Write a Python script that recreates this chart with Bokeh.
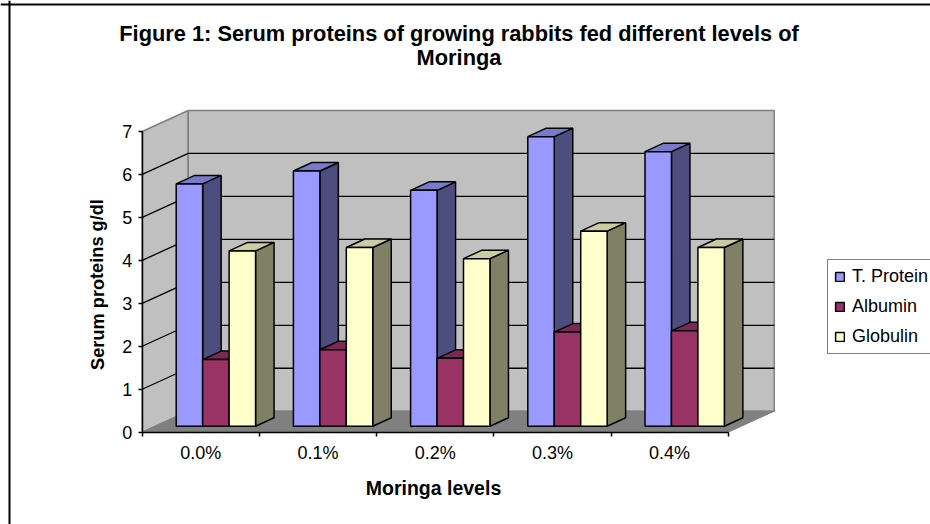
from bokeh.plotting import figure
from bokeh.models import (ColumnDataSource, LinearAxis, FixedTicker, Span, Label, Legend, LegendItem, Range1d)
from bokeh.embed import file_html
from bokeh.resources import INLINE

categories = ["0.0%", "0.1%", "0.2%", "0.3%", "0.4%"]
t_protein = [5.64, 5.94, 5.49, 6.74, 6.39]
albumin = [1.55, 1.78, 1.58, 2.19, 2.22]
globulin = [4.08, 4.16, 3.90, 4.54, 4.16]
y_ticks = [0, 1, 2, 3, 4, 5, 6, 7]
title_lines = ["Figure 1: Serum proteins of growing rabbits fed different levels of", "Moringa"]
y_title = "Serum proteins g/dl"
x_title = "Moringa levels"
series_names = ["T. Protein", "Albumin", "Globulin"]

# geometry
W, H = 930, 524
TOP = 0           # page y of the figure's top edge
LEFT = 0          # page x of the figure's left edge
AX_X = 141.7      # page x of category 0
AX_Y = 431.7      # page y of value 0
CAT_PX = 117.2    # pixels per category
VAL_PX = 42.96    # pixels per value unit
FLOOR_DX = 46 / CAT_PX
FLOOR_DY = 21 / VAL_PX
BAR_DX = 18.5 / CAT_PX
BAR_DY = 8.5 / VAL_PX
BAR_BASE = 6 / VAL_PX
BAR_W = 26.45 / CAT_PX
BAR_START = (175.7 - AX_X) / CAT_PX
FONT = "Liberation Sans"

p = figure(width=W, height=H, output_backend="svg", toolbar_location=None, tools="",
           x_axis_type=None, y_axis_type=None, min_border=0,
           x_range=Range1d((LEFT - AX_X) / CAT_PX, (LEFT + W - AX_X) / CAT_PX),
           y_range=Range1d((AX_Y - TOP - H) / VAL_PX, (AX_Y - TOP) / VAL_PX))
p.grid.visible = False
p.outline_line_color = None
p.background_fill_color = "white"

ncat = len(categories)
top_val = y_ticks[-1]
WALL = "#C0C0C0"
EDGE = "#808080"

# walls and floor
p.patch([0, FLOOR_DX, FLOOR_DX, 0], [0, FLOOR_DY, top_val + FLOOR_DY, top_val],
        fill_color=WALL, line_color=EDGE, line_width=1.5)
p.patch([FLOOR_DX, ncat + FLOOR_DX, ncat + FLOOR_DX, FLOOR_DX],
        [FLOOR_DY, FLOOR_DY, top_val + FLOOR_DY, top_val + FLOOR_DY],
        fill_color=WALL, line_color=EDGE, line_width=1.5)
p.patch([0, ncat, ncat + FLOOR_DX, FLOOR_DX], [0, 0, FLOOR_DY, FLOOR_DY],
        fill_color=EDGE, line_color=EDGE, line_width=1)

# gridlines on both walls
grid = [v for v in y_ticks if 0 < v < top_val]
p.multi_line([[0, FLOOR_DX, ncat + FLOOR_DX] for v in grid],
             [[v, v + FLOOR_DY, v + FLOOR_DY] for v in grid],
             line_color="black", line_width=1.3)

# bars
series = [
    (t_protein, "#9999FF", "#7A7ACC", "#4D4D80"),
    (albumin, "#993366", "#7A2952", "#4D1A33"),
    (globulin, "#FFFFCC", "#CCCCA3", "#808066"),
]
legend_items = []
for j, (vals, front, roof, side) in enumerate(series):
    left = [i + BAR_START + j * BAR_W for i in range(ncat)]
    right = [x + BAR_W for x in left]
    tops = [BAR_BASE + v for v in vals]
    base = [BAR_BASE] * ncat
    p.patches([[r, r + BAR_DX, r + BAR_DX, r] for r in right],
              [[b, b + BAR_DY, t + BAR_DY, t] for b, t in zip(base, tops)],
              fill_color=side, line_color="black", line_width=1.5)
    p.patches([[l, l + BAR_DX, r + BAR_DX, r] for l, r in zip(left, right)],
              [[t, t + BAR_DY, t + BAR_DY, t] for t in tops],
              fill_color=roof, line_color="black", line_width=1.5)
    src = ColumnDataSource(dict(left=left, right=right, top=tops, bottom=base))
    r = p.quad(left="left", right="right", top="top", bottom="bottom", source=src,
               fill_color=front, line_color="black", line_width=1.5)
    legend_items.append(LegendItem(label=series_names[j], renderers=[r]))

# axes
yax = LinearAxis(fixed_location=0, ticker=FixedTicker(ticks=y_ticks), bounds=(0, top_val))
yax.major_tick_out = 4
yax.major_tick_in = 0
yax.minor_tick_out = 0
yax.minor_tick_in = 0
yax.major_label_standoff = 6
yax.major_label_text_font = FONT
yax.major_label_text_font_size = "18px"
yax.major_label_text_color = "black"
yax.axis_line_width = 1.5
yax.major_tick_line_width = 1.5
p.add_layout(yax, "left")

xax = LinearAxis(fixed_location=0, ticker=FixedTicker(ticks=list(range(ncat + 1))),
                 major_label_overrides={i: "" for i in range(ncat + 1)}, bounds=(0, ncat))
xax.major_tick_out = 4
xax.major_tick_in = 0
xax.minor_tick_out = 0
xax.minor_tick_in = 0
xax.axis_line_width = 1.5
xax.major_tick_line_width = 1.5
p.add_layout(xax, "below")

xlab = LinearAxis(fixed_location=0, ticker=FixedTicker(ticks=[i + 0.5 for i in range(ncat)]),
                  major_label_overrides={i + 0.5: c for i, c in enumerate(categories)})
xlab.axis_line_color = None
xlab.major_tick_line_color = None
xlab.minor_tick_line_color = None
xlab.major_tick_out = 0
xlab.major_tick_in = 0
xlab.minor_tick_out = 0
xlab.minor_tick_in = 0
xlab.major_label_standoff = 11
xlab.major_label_text_font = FONT
xlab.major_label_text_font_size = "18px"
xlab.major_label_text_color = "black"
p.add_layout(xlab, "below")

# chart border (left and top only are visible in the reference)
p.add_layout(Span(location=(9 - AX_X) / CAT_PX, dimension="height", line_color="black", line_width=2))
p.add_layout(Span(location=(AX_Y - 4) / VAL_PX, dimension="width", line_color="black", line_width=2))

# titles
def label(text, px, py, size, angle=0):
    p.add_layout(Label(x=px - LEFT, y=TOP + H - py, x_units="screen", y_units="screen", text=text,
                       text_font=FONT, text_font_style="bold", text_font_size=size,
                       text_align="center", text_baseline="middle", angle=angle, text_color="black"))

label(title_lines[0], 458.5, 33, "21.8px")
label(title_lines[1], 458.5, 57, "21.8px")
label(x_title, 433, 487, "19.5px")
label(y_title, 97, 284, "18.2px", angle=1.5708)

# legend
leg = Legend(items=legend_items, location=(827 - LEFT, TOP + H - 354),
             glyph_width=11, glyph_height=11, label_standoff=7, spacing=9, padding=6, margin=0,
             label_text_font=FONT, label_text_font_size="18px", label_text_color="black",
             border_line_color="black", border_line_width=1.5, background_fill_alpha=1)
p.add_layout(leg)

open("out.html", "w").write(file_html(p, INLINE))
